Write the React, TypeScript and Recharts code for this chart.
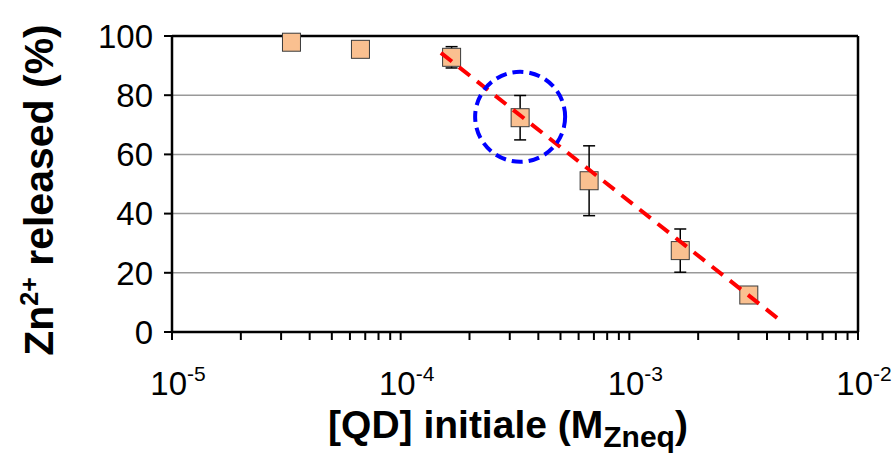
import React from 'react';
import {
  ComposedChart,
  Scatter,
  XAxis,
  YAxis,
  CartesianGrid,
  ErrorBar,
  ReferenceLine,
  ReferenceDot,
} from 'recharts';

// initial QD concentration (M) and Zn2+ released (%)
const concentrations = [3.33e-5, 6.67e-5, 1.67e-4, 3.33e-4, 6.67e-4, 1.67e-3, 3.33e-3];
const released = [97.9, 95.5, 92.8, 72.4, 51.1, 27.5, 12.5];
const releasedErr = [0, 0, 3.6, 7.5, 11.8, 7.3, 0];

// dashed trend line end points
const fitX = [1.5e-4, 4.7e-3];
const fitY = [94.3, 3.2];

// highlighted point
const circleX = 3.33e-4;
const circleY = 72.7;

const decadeTicks = [1e-5, 1e-4, 1e-3, 1e-2];
const yTicks = [0, 20, 40, 60, 80, 100];

const points = concentrations.map((x, i) => ({ x, y: released[i], err: releasedErr[i] }));
const fit = fitX.map((x, i) => ({ x, y: fitY[i] }));

// major + minor ticks for the log axis
const logTicks: number[] = [];
for (let e = -5; e < -2; e++) {
  for (let m = 1; m < 10; m++) logTicks.push(m * Math.pow(10, e));
}
logTicks.push(1e-2);

const FONT = '"Liberation Sans", Arial, Helvetica, sans-serif';

function isDecade(v: number) {
  return decadeTicks.some((d) => Math.abs(v - d) / d < 1e-6);
}

function XTick(props: any) {
  const { x, y, payload } = props;
  const v = payload.value as number;
  if (!isDecade(v)) return null;
  const exp = Math.round(Math.log10(v));
  return (
    <text x={x + 6} y={y + 53} textAnchor="middle" fontFamily={FONT} fontSize={33} fill="#000">
      10
      <tspan dy={-14} fontSize={21}>
        {String(exp)}
      </tspan>
    </text>
  );
}

function Square(props: any) {
  const { cx, cy } = props;
  if (cx == null || cy == null) return null;
  return <rect x={cx - 9} y={cy - 9} width={18} height={18} fill="#FAC090" stroke="#3a3a3a" strokeWidth={1} />;
}

function DashedCircle(props: any) {
  const { cx, cy } = props;
  return (
    <circle cx={cx} cy={cy} r={45} fill="none" stroke="#0000FF" strokeWidth={4} strokeDasharray="11 6" />
  );
}

export default function App() {
  return (
    <div style={{ position: 'absolute', left: 0, top: 0, background: '#fff' }}>
      <ComposedChart width={893} height={457} margin={{ top: 36, right: 35, left: 0, bottom: 0 }}>
        <CartesianGrid vertical={false} stroke="#999" strokeWidth={1.5} />
        <XAxis
          dataKey="x"
          type="number"
          scale="log"
          domain={[1e-5, 1e-2]}
          ticks={logTicks}
          interval={0}
          allowDataOverflow
          height={125}
          tick={<XTick />}
          tickSize={8}
          axisLine={{ stroke: '#000', strokeWidth: 2.5 }}
          tickLine={{ stroke: '#000', strokeWidth: 2 }}
        />
        <YAxis
          dataKey="y"
          type="number"
          domain={[0, 100]}
          ticks={yTicks}
          interval={0}
          width={172}
          tickSize={8}
          tickMargin={11}
          tick={{ fill: '#000', fontSize: 33, fontFamily: FONT }}
          axisLine={{ stroke: '#000', strokeWidth: 2.5 }}
          tickLine={{ stroke: '#000', strokeWidth: 2 }}
        />
        <ReferenceLine y={100} stroke="#000" strokeWidth={2.5} />
        <ReferenceLine x={1e-2} stroke="#000" strokeWidth={2.5} />
        <Scatter data={points} dataKey="y" shape={<Square />} isAnimationActive={false}>
          <ErrorBar dataKey="err" direction="y" width={6} stroke="#000" strokeWidth={1.5} />
        </Scatter>
        {/* trend line drawn as a joined scatter so it sits above the squares */}
        <Scatter
          data={fit}
          dataKey="y"
          shape={() => <g />}
          line={{ stroke: '#FF0000', strokeWidth: 4, strokeDasharray: '14 9' }}
          lineType="joint"
          isAnimationActive={false}
        />
        <ReferenceDot x={circleX} y={circleY} shape={<DashedCircle />} />
        <text
          x={53}
          y={190}
          transform="rotate(-90, 53, 190)"
          textAnchor="middle"
          fontFamily={FONT}
          fontWeight="bold"
          fontSize={41}
          fill="#000"
        >
          Zn
          <tspan dy={-15} fontSize={25}>
            2+
          </tspan>
          <tspan dy={15}> released (%)</tspan>
        </text>
        <text x={508} y={438} textAnchor="middle" fontFamily={FONT} fontWeight="bold" fontSize={39} fill="#000">
          [QD] initiale (M
          <tspan dy={9} fontSize={30}>
            Zneq
          </tspan>
          <tspan dy={-9}>)</tspan>
        </text>
      </ComposedChart>
    </div>
  );
}
